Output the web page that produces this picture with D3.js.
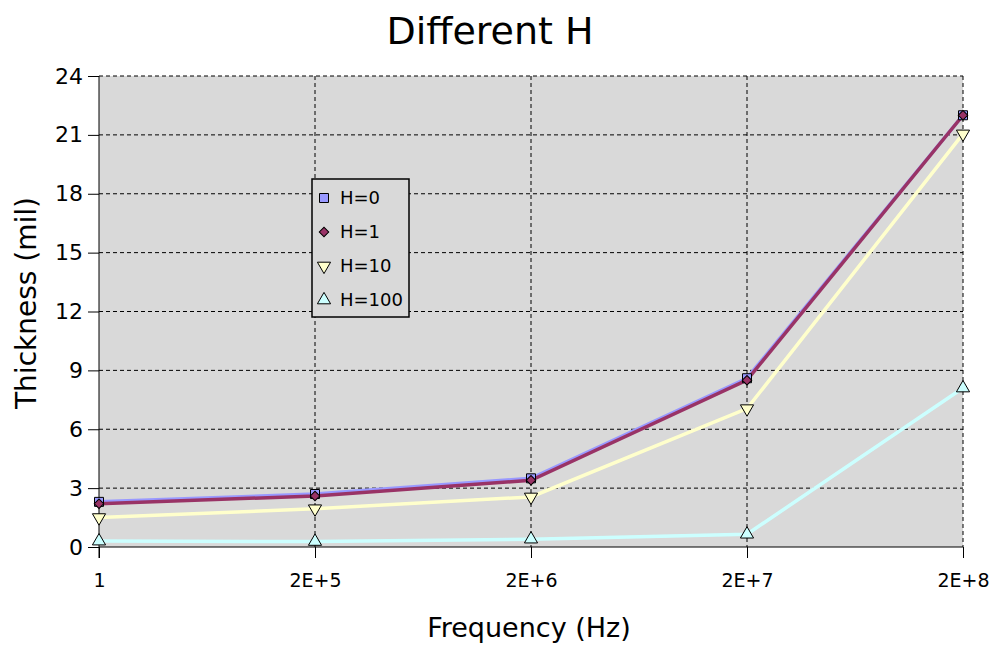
<!DOCTYPE html>
<html>
<head>
<meta charset="utf-8">
<script src="https://cdn.jsdelivr.net/npm/d3@7"></script>
<style>
  body { margin: 0; background: #fff; }
  text { font-family: "DejaVu Sans", sans-serif; fill: #000; }
</style>
</head>
<body>
<div id="chart"></div>
<script>
// Chart data
const categories = ["1", "2E+5", "2E+6", "2E+7", "2E+8"];
const seriesNames = ["H=0", "H=1", "H=10", "H=100"];
const h0 = [2.3, 2.7, 3.5, 8.6, 22.0];
const h1 = [2.2, 2.6, 3.4, 8.5, 22.0];
const h10 = [1.5, 1.95, 2.55, 7.05, 21.05];
const h100 = [0.3, 0.28, 0.4, 0.65, 8.1];
const yTicks = [0, 3, 6, 9, 12, 15, 18, 21, 24];

const width = 995;
const height = 646;
const margin = { top: 76, right: 32, bottom: 99, left: 99 };

const series = [
  { name: seriesNames[0], values: h0, color: "#9999ff", symbol: d3.symbolSquare, rot: 0, size: 81 },
  { name: seriesNames[1], values: h1, color: "#993366", symbol: d3.symbolSquare, rot: 45, size: 45 },
  { name: seriesNames[2], values: h10, color: "#ffffcc", symbol: d3.symbolTriangle, rot: 180, size: 75 },
  { name: seriesNames[3], values: h100, color: "#ccffff", symbol: d3.symbolTriangle, rot: 0, size: 75 }
];

const svg = d3.select("#chart").append("svg").attr("width", width).attr("height", height);

const x = d3.scalePoint().domain(categories).range([margin.left, width - margin.right]);
const y = d3.scaleLinear().domain([0, 24]).range([height - margin.bottom, margin.top]);

// plot background
svg.append("rect")
  .attr("x", margin.left).attr("y", margin.top)
  .attr("width", width - margin.left - margin.right)
  .attr("height", height - margin.top - margin.bottom)
  .attr("fill", "#d9d9d9");

// gridlines
svg.append("g")
  .selectAll("line")
  .data(yTicks.slice(1))
  .join("line")
  .attr("x1", margin.left).attr("x2", width - margin.right)
  .attr("y1", (d) => y(d)).attr("y2", (d) => y(d))
  .attr("stroke", "#000").attr("stroke-dasharray", "4,3");

svg.append("g")
  .selectAll("line")
  .data(categories.slice(1))
  .join("line")
  .attr("x1", (d) => x(d)).attr("x2", (d) => x(d))
  .attr("y1", margin.top).attr("y2", height - margin.bottom)
  .attr("stroke", "#000").attr("stroke-dasharray", "4,3");

// axes
const yAxis = d3.axisLeft(y).tickValues(yTicks).tickSize(11).tickPadding(5);
const xAxis = d3.axisBottom(x).tickSize(11).tickPadding(16);

svg.append("g")
  .attr("transform", `translate(${margin.left},0)`)
  .call(yAxis)
  .call((g) => g.select(".domain").attr("d", `M0,${y(0) + 11}V${y(24)}`))
  .call((g) => g.selectAll("text").style("font-size", "22px"));

svg.append("g")
  .attr("transform", `translate(0,${height - margin.bottom})`)
  .call(xAxis)
  .call((g) => g.select(".domain").attr("d", `M${margin.left},0H${width - margin.right}`))
  .call((g) => g.selectAll("text").style("font-size", "19px"));

// lines
const line = d3.line().x((d, i) => x(categories[i])).y((d) => y(d));

svg.append("g")
  .selectAll("path")
  .data(series)
  .join("path")
  .attr("d", (s) => line(s.values))
  .attr("fill", "none")
  .attr("stroke", (s) => s.color)
  .attr("stroke-width", 3.5);

// markers
series.forEach((s) => {
  svg.append("g")
    .selectAll("path")
    .data(s.values)
    .join("path")
    .attr("transform", (d, i) => `translate(${x(categories[i])},${y(d)}) rotate(${s.rot})`)
    .attr("d", d3.symbol().type(s.symbol).size(s.size))
    .attr("fill", s.color)
    .attr("stroke", "#000")
    .attr("stroke-width", 1);
});

// title and axis labels
svg.append("text")
  .attr("x", 490).attr("y", 44)
  .attr("text-anchor", "middle")
  .style("font-size", "38px")
  .text("Different H");

svg.append("text")
  .attr("x", 529).attr("y", 637)
  .attr("text-anchor", "middle")
  .style("font-size", "27px")
  .text("Frequency (Hz)");

svg.append("text")
  .attr("transform", "translate(36,303) rotate(-90)")
  .attr("text-anchor", "middle")
  .style("font-size", "28px")
  .text("Thickness (mil)");

// legend
const legend = svg.append("g").attr("transform", "translate(312,179)");
legend.append("rect")
  .attr("width", 97).attr("height", 138)
  .attr("fill", "#d9d9d9").attr("stroke", "#000").attr("stroke-width", 1.5);

const rows = legend.selectAll("g.row")
  .data(series)
  .join("g")
  .attr("class", "row")
  .attr("transform", (s, i) => `translate(12,${19 + i * 34})`);

rows.append("path")
  .attr("transform", (s) => `rotate(${s.rot})`)
  .attr("d", (s) => d3.symbol().type(s.symbol).size(s.size)())
  .attr("fill", (s) => s.color)
  .attr("stroke", "#000");

rows.append("text")
  .attr("x", 16).attr("dy", "0.35em")
  .style("font-size", "18px")
  .text((s) => s.name);
</script>
</body>
</html>
